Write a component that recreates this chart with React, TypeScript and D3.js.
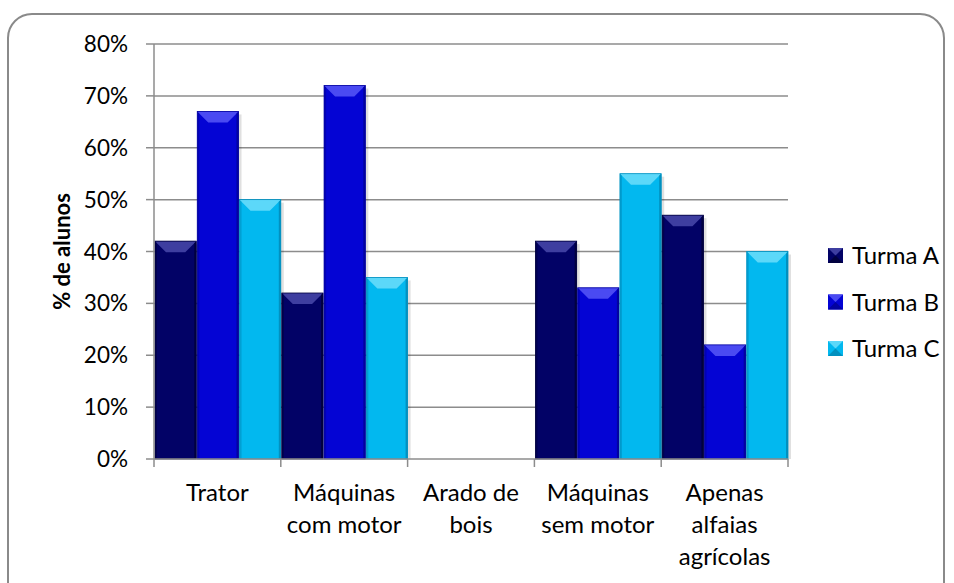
import React from 'react';
import * as d3 from 'd3';

const categories = [['Trator'], ['Máquinas', 'com motor'], ['Arado de', 'bois'], ['Máquinas', 'sem motor'], ['Apenas', 'alfaias', 'agrícolas']];
const series = ['Turma A', 'Turma B', 'Turma C'];
const turmaA = [42, 32, 0, 42, 47];
const turmaB = [67, 72, 0, 33, 22];
const turmaC = [50, 35, 0, 55, 40];
const yTicks = [0, 10, 20, 30, 40, 50, 60, 70, 80];

const colors = {
  'Turma A': { base: '#020266', top: '#3e3ea0', edge: '#01013f' },
  'Turma B': { base: '#0404d4', top: '#4a4af2', edge: '#0202a0' },
  'Turma C': { base: '#02b8ef', top: '#5cd8f9', edge: '#0290bf' },
};

const font = 'Lato, "Open Sans", sans-serif';

export default function App() {
  const width = 954;
  const height = 583;
  const margin = { left: 154, right: 166, top: 44, bottom: 124 };
  const plotW = width - margin.left - margin.right;
  const plotH = height - margin.top - margin.bottom;

  const x = d3.scaleBand().domain(categories.map((_, i) => String(i))).range([0, plotW]).padding(0);
  const xInner = d3.scaleBand().domain(series).range([0, x.bandwidth()]).padding(0);
  const y = d3.scaleLinear().domain([0, 80]).range([plotH, 0]);

  const values = { 'Turma A': turmaA, 'Turma B': turmaB, 'Turma C': turmaC };

  const bar = (s, i) => {
    const v = values[s][i];
    if (!v) return null;
    const bx = x(String(i)) + xInner(s) + 1;
    const bw = xInner.bandwidth() - 1;
    const by = y(v);
    const bh = plotH - by;
    const c = colors[s];
    const bev = 11;
    return (
      <g key={s + i}>
        <rect x={bx + 3} y={by + 3} width={bw} height={bh - 3} fill="#000" opacity={0.12} />
        <rect x={bx} y={by} width={bw} height={bh} fill={c.base} />
        <polygon points={`${bx},${by} ${bx + bw},${by} ${bx + bw - bev},${by + bev} ${bx + bev},${by + bev}`} fill={c.top} />
        <polygon points={`${bx},${by} ${bx + 2},${by + 2} ${bx + 2},${by + bh} ${bx},${by + bh}`} fill={c.edge} opacity={0.6} />
        <polygon points={`${bx + bw},${by} ${bx + bw - 2},${by + 2} ${bx + bw - 2},${by + bh} ${bx + bw},${by + bh}`} fill={c.edge} />
        <rect x={bx} y={by} width={bw} height={bh} fill="none" stroke={c.edge} strokeWidth={0.8} />
      </g>
    );
  };

  return (
    <svg width={width} height={height} style={{ position: 'absolute', left: 0, top: 0, background: '#fff' }}>
      <rect x={8} y={14} width={936} height={620} rx={24} fill="#fff" stroke="#8a8a8a" strokeWidth={2} />
      <g transform={`translate(${margin.left},${margin.top})`}>
        {yTicks.map(t => (
          <g key={t}>
            {t > 0 && <line x1={0} x2={plotW} y1={y(t)} y2={y(t)} stroke="#8c8c8c" strokeWidth={1.5} />}
            <line x1={-8} x2={0} y1={y(t)} y2={y(t)} stroke="#8c8c8c" strokeWidth={1.5} />
            <text x={-26} y={y(t)} dy="0.36em" textAnchor="end" fontFamily={font} fontSize={22.5} fill="#000">{t}%</text>
          </g>
        ))}
        {categories.map((_, i) => series.map(s => bar(s, i)))}
        <line x1={0} x2={0} y1={0} y2={plotH} stroke="#8c8c8c" strokeWidth={1.5} />
        <line x1={0} x2={plotW} y1={plotH} y2={plotH} stroke="#8c8c8c" strokeWidth={1.5} />
        {d3.range(categories.length + 1).map(i => {
          const xx = i < categories.length ? x(String(i)) : plotW;
          return <line key={i} x1={xx} x2={xx} y1={plotH} y2={plotH + 8} stroke="#8c8c8c" strokeWidth={1.5} />;
        })}
        {categories.map((lines, i) => (
          <text key={i} x={x(String(i)) + x.bandwidth() / 2} y={plotH + 42} textAnchor="middle" fontFamily={font} fontSize={24} fill="#000">
            {lines.map((l, j) => (
              <tspan key={j} x={x(String(i)) + x.bandwidth() / 2} dy={j === 0 ? 0 : 32}>{l}</tspan>
            ))}
          </text>
        ))}
        <text transform={`translate(-84,${plotH / 2}) rotate(-90)`} textAnchor="middle" fontFamily={font} fontSize={22} fontWeight="bold" fill="#000">% de alunos</text>
      </g>
      {series.map((s, i) => {
        const ly = 255.5 + i * 46.5;
        const c = colors[s];
        return (
          <g key={s}>
            <rect x={828} y={ly - 7.5} width={15} height={15} fill={c.base} />
            <polygon points={`${828},${ly - 7.5} ${843},${ly - 7.5} ${835.5},${ly}`} fill={c.top} />
            <polygon points={`${828},${ly + 7.5} ${843},${ly + 7.5} ${835.5},${ly}`} fill={c.edge} />
            <text x={852} y={ly} dy="0.36em" fontFamily={font} fontSize={24} fill="#000">{s}</text>
          </g>
        );
      })}
    </svg>
  );
}
